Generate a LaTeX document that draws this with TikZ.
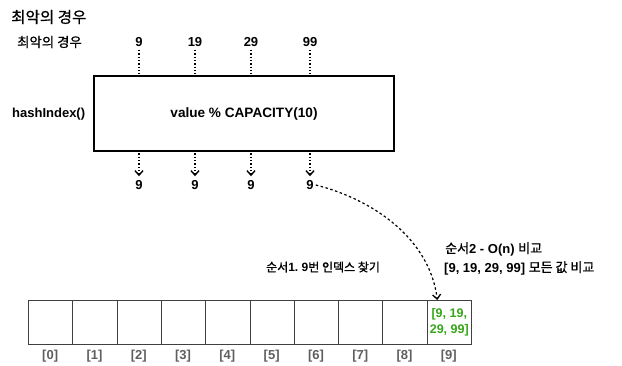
\documentclass[tikz,border=0pt]{standalone}
\usepackage{fontspec}
\setmainfont{Liberation Sans}
\newfontfamily\kr{Noto Sans CJK KR}[FakeBold=0.9]
\newcommand\krt[1]{{\kr\mdseries #1}}
\usetikzlibrary{arrows.meta}
\definecolor{idxgray}{RGB}{95,95,95}
\definecolor{valgreen}{RGB}{55,165,25}
\begin{document}
\frenchspacing
\begin{tikzpicture}[x=1pt,y=-1pt,
  txt/.style={inner sep=0pt,font=\fontsize{13}{15}\selectfont\bfseries},
  dots/.style={line width=1.3pt,dotted},
  darr/.style={dots,-{Straight Barb[length=4.5pt,width=8pt,line width=1.4pt]}},
  cell/.style={draw=black!75,line width=0.9pt,minimum width=44.3pt,minimum height=44pt,inner sep=0pt,anchor=north west},
  idx/.style={txt,text=idxgray}]
\useasboundingbox (0,0) rectangle (622,365);
\node[txt,font=\fontsize{15.6}{17}\selectfont\kr,anchor=west] (title) at (11,17) {최악의 경우};
\node[txt,font=\fontsize{13.4}{15}\selectfont\kr,anchor=west] (sub) at (17,42) {최악의 경우};
\node[txt] (i1) at (139,42) {9};
\node[txt] (i2) at (195,42) {19};
\node[txt] (i3) at (251,42) {29};
\node[txt] (i4) at (310,42) {99};
\node[draw,line width=2pt,minimum width=300pt,minimum height=75pt,inner sep=0pt,anchor=north west,txt,font=\fontsize{13.6}{15}\selectfont\bfseries] (box) at (93,75) {value \% CAPACITY(10)};
\node[txt,anchor=west] (hi) at (12,114) {hashIndex()};
\foreach \i/\x in {1/139,2/195,3/251,4/310}{
  \coordinate (t\i) at (\x,50);
  \coordinate (b\i) at (\x,150);
  \node[txt] (o\i) at (\x,185) {9};
  \draw[dots] (t\i) -- (t\i |- box.north);
  \draw[darr] (b\i) -- ([yshift=4pt]o\i.north);
}
\foreach \k in {0,...,9}{
  \node[cell] (c\k) at ({28+44.3*\k},300) {};
  \node[idx] (l\k) at ({28+44.3*\k+22.15},356) {[\k]};
}
\node[txt,text=valgreen,align=center,font=\fontsize{12.5}{15.5}\selectfont\bfseries] (v) at (c9.center) {[9, 19,\\29, 99]};
\draw[line width=1.2pt,dash pattern=on 2.5pt off 2.5pt,-{Straight Barb[length=4.5pt,width=8pt,line width=1.3pt]}] ([xshift=2pt]o4.east) .. controls (375,200) and (430,240) .. ([xshift=-12pt]c9.north);
\node[txt,anchor=west,font=\fontsize{12}{14}\selectfont\bfseries] (s1) at (266,267) {\krt{순서}1. 9\krt{번 인덱스 찾기}};
\node[txt,anchor=west,align=left] (s2a) at (445,249) {\krt{순서}2 - O(n) \krt{비교}};
\node[txt,anchor=west,align=left] (s2b) at (444,268) {[9, 19, 29, 99] \krt{모든 값 비교}};
\end{tikzpicture}
\end{document}
